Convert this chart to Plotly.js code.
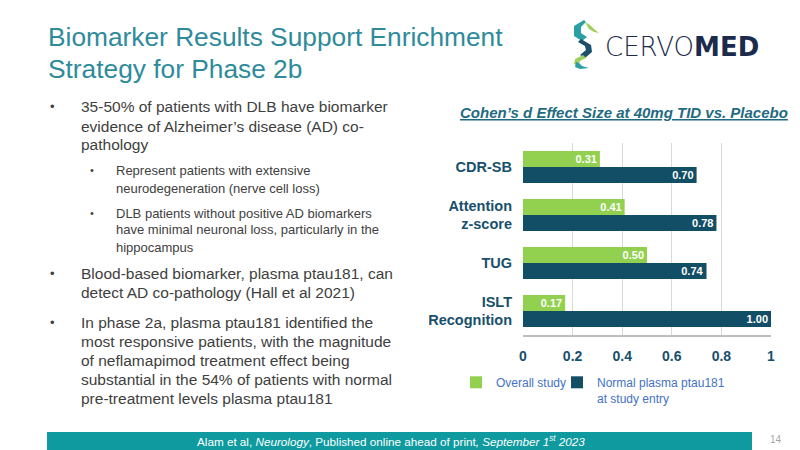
<!DOCTYPE html>
<html>
<head>
<meta charset="utf-8">
<script src="https://cdn.plot.ly/plotly-3.0.1.min.js"></script>
<style>
  html, body { margin: 0; padding: 0; background: #ffffff; }
  #chart { width: 800px; height: 450px; }
</style>
</head>
<body>
<div id="chart"></div>
<script>
// ---- Chart data ----
const categories = ['CDR-SB', 'Attention<br>z-score', 'TUG', 'ISLT<br>Recognition'];
const overallStudy = [0.31, 0.41, 0.50, 0.17];
const normalPtau181 = [0.70, 0.78, 0.74, 1.00];
const seriesNames = ['Overall study', 'Normal plasma ptau181<br>at study entry'];
const xTickVals = [0, 0.2, 0.4, 0.6, 0.8, 1];
const xTickText = ['0', '0.2', '0.4', '0.6', '0.8', '1'];
const chartTitle = '<b><i><u>Cohen\u2019s d Effect Size at 40mg TID vs. Placebo</u></i></b>';

// ---- Slide text ----
const slideTitle = ['Biomarker Results Support Enrichment', 'Strategy for Phase 2b'];
const bulletBlocks = [
  { level: 1, lines: ['35-50% of patients with DLB have biomarker', 'evidence of Alzheimer\u2019s disease (AD) co-', 'pathology'] },
  { level: 2, lines: ['Represent patients with extensive', 'neurodegeneration (nerve cell loss)'] },
  { level: 2, lines: ['DLB patients without positive AD biomarkers', 'have minimal neuronal loss, particularly in the', 'hippocampus'] },
  { level: 1, lines: ['Blood-based biomarker, plasma ptau181, can', 'detect AD co-pathology (Hall et al 2021)'] },
  { level: 1, lines: ['In phase 2a, plasma ptau181 identified the', 'most responsive patients, with the magnitude', 'of neflamapimod treatment effect being', 'substantial in the 54% of patients with normal', 'pre-treatment levels plasma ptau181'] }
];
const footerText = 'Alam et al, <i>Neurology</i>, Published online ahead of print<i>, September 1<sup>st</sup> 2023</i>';
const pageNumber = '14';

// ---- Layout helpers (positions in pixels) ----
const W = 800, H = 450;
const px = x => x / W;
const py = y => 1 - y / H;
const blockLineY = [
  [107, 126, 145],
  [170, 188],
  [213, 230, 247],
  [273, 292],
  [322, 341, 360, 379, 398]
];

const BAR_GREEN = '#92d050';
const BAR_DARK = '#124e66';
const LABEL_COLOR = '#17506a';
const TEXT_GRAY = '#404040';
const FONT = 'Liberation Sans, Arial, sans-serif';

function pathPx(pts) {
  return pts.map((p, i) => (i === 0 ? 'M' : 'L') + px(p[0]).toFixed(4) + ',' + py(p[1]).toFixed(4)).join(' ') + ' Z';
}

const traces = [
  {
    type: 'bar', orientation: 'h', name: seriesNames[0], legend: 'legend',
    y: categories, x: overallStudy,
    marker: { color: BAR_GREEN },
    texttemplate: '%{x:.2f}', textposition: 'inside', insidetextanchor: 'end',
    textangle: 0, constraintext: 'none',
    textfont: { family: FONT, size: 11, color: '#ffffff', weight: 'bold' },
    hoverinfo: 'x+y'
  },
  {
    type: 'bar', orientation: 'h', name: seriesNames[1], legend: 'legend2',
    y: categories, x: normalPtau181,
    marker: { color: BAR_DARK },
    texttemplate: '%{x:.2f}', textposition: 'inside', insidetextanchor: 'end',
    textangle: 0, constraintext: 'none',
    textfont: { family: FONT, size: 11, color: '#ffffff', weight: 'bold' },
    hoverinfo: 'x+y'
  }
];

const annotations = [];
const shapes = [];

// Slide title
slideTitle.forEach((t, i) => {
  annotations.push({
    xref: 'paper', yref: 'paper', x: px(46), y: py([37, 69][i]),
    xanchor: 'left', yanchor: 'middle', showarrow: false, text: t,
    font: { family: FONT, size: 26.3, color: '#2e8b9b' }
  });
});

// Bullets
bulletBlocks.forEach((b, bi) => {
  const ys = blockLineY[bi];
  const main = b.level === 1;
  annotations.push({
    xref: 'paper', yref: 'paper', x: px(main ? 52 : 92), y: py(ys[0]),
    xanchor: 'center', yanchor: 'middle', showarrow: false, text: '\u2022',
    font: { family: FONT, size: main ? 13 : 11, color: TEXT_GRAY }
  });
  b.lines.forEach((ln, li) => {
    annotations.push({
      xref: 'paper', yref: 'paper', x: px(main ? 79 : 114), y: py(ys[li]),
      xanchor: 'left', yanchor: 'middle', showarrow: false, text: ln,
      font: { family: FONT, size: main ? 15.5 : 13, color: TEXT_GRAY }
    });
  });
});

// Chart title
annotations.push({
  xref: 'paper', yref: 'paper', x: px(624), y: py(113),
  xanchor: 'center', yanchor: 'middle', showarrow: false, text: chartTitle,
  font: { family: FONT, size: 15, color: '#1f6b80' }
});

// Logo text
annotations.push({
  xref: 'paper', yref: 'paper', x: px(603), y: py(47),
  xanchor: 'left', yanchor: 'middle', showarrow: false, text: 'CERVO<b>MED</b>',
  font: { family: 'DejaVu Sans, sans-serif', size: 26, color: '#1b2b4b', weight: 200 }
});

// Logo icon (seahorse-like S)
shapes.push(
  { type: 'path', xref: 'paper', yref: 'paper', layer: 'above', line: { width: 0 }, fillcolor: '#2aa0a4',
    path: pathPx([[584,20],[574,26],[574,36],[582,41],[587,37],[581,33],[581,27],[586,22]]) },
  { type: 'path', xref: 'paper', yref: 'paper', layer: 'above', line: { width: 0 }, fillcolor: '#9fcf5c',
    path: pathPx([[585,22],[589,29],[594,32],[599,33],[594,29],[590,25]]) },
  { type: 'path', xref: 'paper', yref: 'paper', layer: 'above', line: { width: 0 }, fillcolor: '#1b4f6c',
    path: pathPx([[581,39],[591,45],[592,52],[585,58],[580,55],[586,50],[585,46],[578,42]]) },
  { type: 'path', xref: 'paper', yref: 'paper', layer: 'above', line: { width: 0 }, fillcolor: '#9fcf5c',
    path: pathPx([[583,55],[575,59],[574,64],[578,66],[580,61],[586,58]]) },
  { type: 'path', xref: 'paper', yref: 'paper', layer: 'above', line: { width: 0 }, fillcolor: '#2aa0a4',
    path: pathPx([[576,62],[575,67],[580,69],[589,68],[582,66],[579,63]]) }
);

// Footer bar
shapes.push({
  type: 'rect', xref: 'paper', yref: 'paper', layer: 'below',
  x0: px(47), x1: px(752), y0: py(450), y1: py(432),
  line: { width: 0 }, fillcolor: '#0e9a9e'
});
annotations.push({
  xref: 'paper', yref: 'paper', x: px(391), y: py(441),
  xanchor: 'center', yanchor: 'middle', showarrow: false, text: footerText,
  font: { family: FONT, size: 11.7, color: '#ffffff' }
});
annotations.push({
  xref: 'paper', yref: 'paper', x: px(776), y: py(439),
  xanchor: 'center', yanchor: 'middle', showarrow: false, text: pageNumber,
  font: { family: FONT, size: 10, color: '#a6a6a6' }
});

const legendBase = {
  orientation: 'h', xanchor: 'left', yanchor: 'top',
  font: { family: FONT, size: 12, color: '#4472c4' },
  bgcolor: 'rgba(0,0,0,0)', valign: 'top'
};

const layout = {
  width: W, height: H,
  margin: { l: 0, r: 0, t: 0, b: 0, pad: 0 },
  paper_bgcolor: '#ffffff', plot_bgcolor: '#ffffff',
  font: { family: FONT },
  barmode: 'group', bargap: 0.33, bargroupgap: 0,
  showlegend: true,
  legend: Object.assign({}, legendBase, { x: px(456), y: py(368) }),
  legend2: Object.assign({}, legendBase, { x: px(557), y: py(368) }),
  xaxis: {
    domain: [px(523), px(771)], range: [0, 1], fixedrange: true,
    tickvals: xTickVals, ticktext: xTickText,
    tickfont: { family: FONT, size: 14, color: LABEL_COLOR, weight: 'bold' },
    showgrid: true, gridcolor: '#d9d9d9', gridwidth: 1,
    zeroline: false, showline: true, linecolor: '#bfbfbf', linewidth: 1.5,
    ticks: '', ticklabelstandoff: 8, automargin: false
  },
  yaxis: {
    domain: [py(335), py(143)], type: 'category',
    categoryorder: 'array', categoryarray: categories,
    autorange: 'reversed', fixedrange: true,
    tickfont: { family: FONT, size: 14.5, color: LABEL_COLOR, weight: 'bold' },
    showgrid: false, zeroline: false, showline: false,
    ticks: '', ticklabelstandoff: 10, automargin: false
  },
  annotations: annotations,
  shapes: shapes
};

Plotly.newPlot('chart', traces, layout, { displayModeBar: false, staticPlot: true });
</script>
</body>
</html>
